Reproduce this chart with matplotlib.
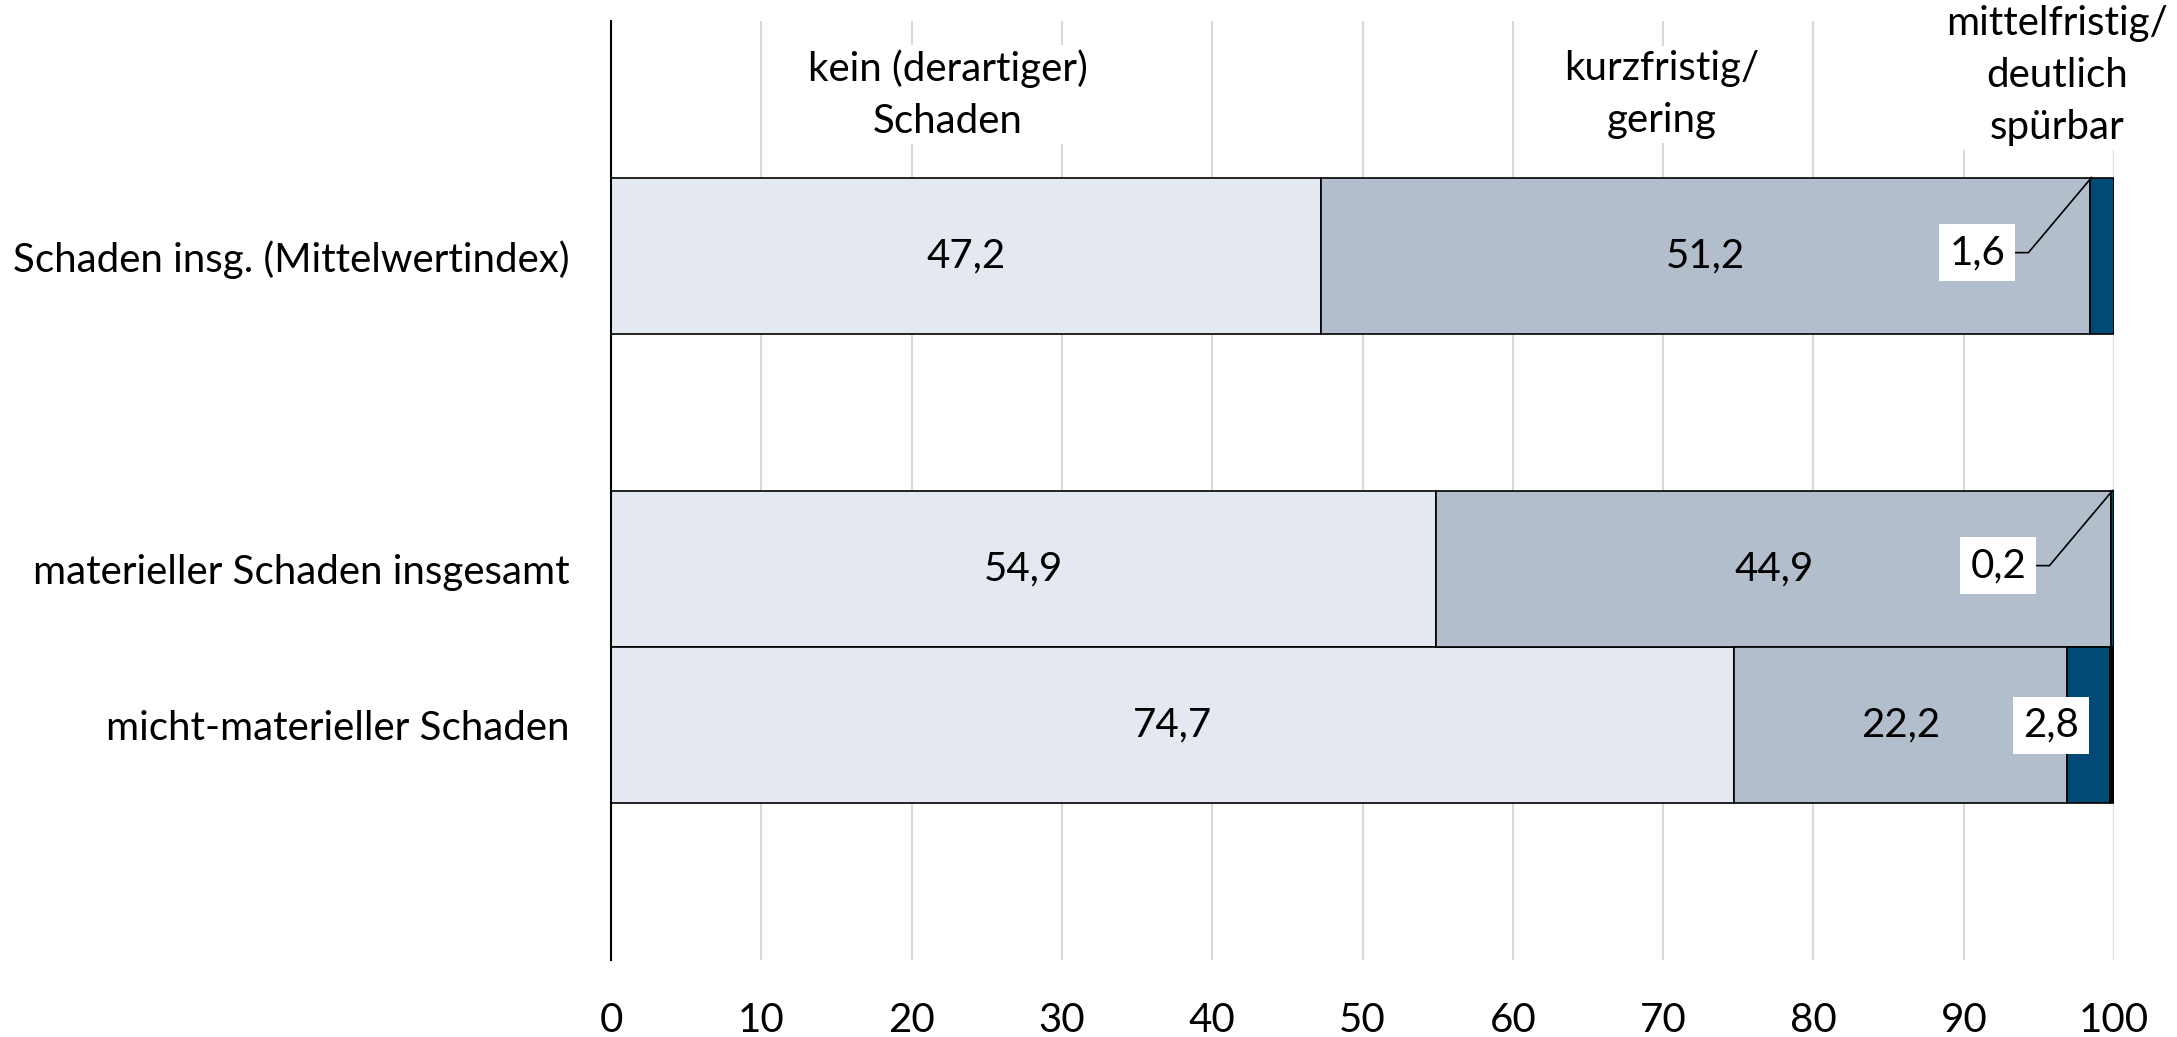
import matplotlib
matplotlib.use("Agg")
import matplotlib.pyplot as plt
import numpy as np

plt.rcParams['font.family'] = ['Lato', 'DejaVu Sans']

# Kategorien (von oben nach unten) und Anteile in Prozent
categories = ["Schaden insg. (Mittelwertindex)",
              "materieller Schaden insgesamt",
              "micht-materieller Schaden"]
kein_schaden = [47.2, 54.9, 74.7]
kurzfristig = [51.2, 44.9, 22.2]
mittelfristig = [1.6, 0.2, 2.8]
rest = [0.0, 0.0, 0.3]
series_names = ["kein (derartiger)\nSchaden", "kurzfristig/\ngering",
                "mittelfristig/\ndeutlich\nspürbar"]
x_ticks = [0, 10, 20, 30, 40, 50, 60, 70, 80, 90, 100]

colors = ["#E4E8F0", "#B2BECC", "#004A75", "#000000"]
FS = 29

fig = plt.figure(figsize=(21.77, 10.37), dpi=100)
ax = fig.add_axes([0.2807, 0.0743, 0.6904, 0.9054])

# Zeilenraster: 0 = Kopfzeile, 1 = Balken, 2 = Leerzeile, 3/4 = Balken, 5 = Leerzeile
rows = [1, 3, 4]
series = [kein_schaden, kurzfristig, mittelfristig, rest]
left = np.zeros(len(categories))
for vals, col in zip(series, colors):
    vals = np.array(vals)
    ax.barh(rows, vals, left=left, height=1.0, color=col,
            edgecolor="black", linewidth=1.2, zorder=3)
    left = left + vals

# Werte der beiden ersten Segmente, mittig
for r, a, b in zip(rows, kein_schaden, kurzfristig):
    ax.text(a / 2, r, f"{a:.1f}".replace(".", ","), ha="center", va="center",
            fontsize=FS, zorder=5)
    ax.text(a + b / 2, r, f"{b:.1f}".replace(".", ","), ha="center", va="center",
            fontsize=FS, zorder=5)

# Werte des dritten Segments in weißen Kästchen
box = dict(boxstyle="square,pad=0.25", fc="white", ec="none")
for i, (r, a, b, c) in enumerate(zip(rows, kein_schaden, kurzfristig, mittelfristig)):
    start = a + b
    txt = f"{c:.1f}".replace(".", ",")
    if i < 2:
        lx, ly = start - 7.5, r - 0.02
        ax.text(lx, ly, txt, ha="center", va="center", fontsize=FS,
                bbox=box, zorder=6)
        ax.plot([lx + 2.5, lx + 3.4, start + 0.1 if i == 0 else start + c - 0.1],
                [ly, ly, r - 0.5], color="black", lw=1.2, zorder=5)
    else:
        ax.text(start - 1.1, r, txt, ha="center", va="center", fontsize=FS,
                bbox=box, zorder=6)

# Kopfzeile mit den Bezeichnungen der Ausprägungen
head_box = dict(boxstyle="square,pad=0.1", fc="white", ec="none")
LS = 1.5
ax.text(22.4, -0.03, series_names[0], ha="center", va="center", fontsize=FS,
        linespacing=LS, bbox=head_box, zorder=4)
ax.text(69.9, -0.03, series_names[1], ha="center", va="center", fontsize=FS,
        linespacing=LS, bbox=head_box, zorder=4)
ax.text(96.2, -0.15, series_names[2], ha="center", va="center", fontsize=FS,
        linespacing=LS, bbox=head_box, zorder=4, clip_on=False)

ax.set_xlim(0, 100)
ax.set_ylim(5.5, -0.5)
ax.set_xticks(x_ticks)
ax.set_xticklabels([str(t) for t in x_ticks], fontsize=FS)
ax.set_yticks(rows)
ax.set_yticklabels(categories, fontsize=FS)
ax.tick_params(axis="x", length=0, pad=30)
ax.tick_params(axis="y", length=0, pad=30)

ax.grid(axis="x", color="#D9D9D9", linewidth=1.5, zorder=0)
ax.set_axisbelow(True)
for s in ["top", "right", "bottom"]:
    ax.spines[s].set_visible(False)
ax.spines["left"].set_color("black")
ax.spines["left"].set_linewidth(1.5)
ax.spines["left"].set_zorder(7)

fig.savefig("out.png", dpi=100, facecolor="white")
